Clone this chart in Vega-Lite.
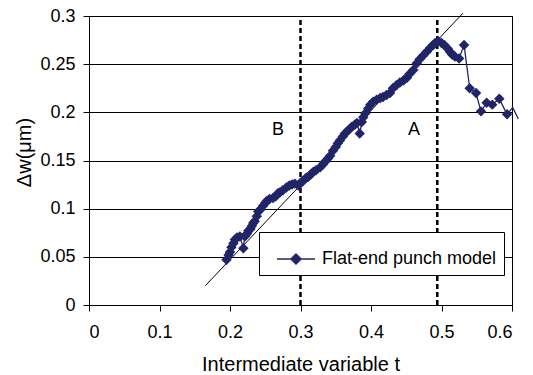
{
  "$schema": "https://vega.github.io/schema/vega-lite/v6.json",
  "width": 423,
  "height": 289,
  "autosize": "none",
  "padding": {"left": 89, "top": 16, "right": 21, "bottom": 70},
  "background": "white",
  "config": {
    "view": {"stroke": "black", "strokeWidth": 1},
    "font": "Liberation Sans",
    "axis": {
      "labelFont": "Liberation Sans",
      "titleFont": "Liberation Sans",
      "labelFontSize": 18,
      "titleFontSize": 20,
      "titleFontWeight": "normal",
      "labelColor": "black",
      "titleColor": "black",
      "domainColor": "black",
      "tickColor": "black",
      "gridColor": "black",
      "gridOpacity": 1,
      "tickSize": 6
    }
  },
  "layer": [
    {
      "data": {"values": [{"t": 0.3}, {"t": 0.494}]},
      "mark": {"type": "rule", "color": "black", "strokeWidth": 2.5, "strokeDash": [5, 3]},
      "encoding": {
        "x": {"field": "t", "type": "quantitative", "scale": {"domain": [0, 0.6], "nice": false}},
        "y": {"datum": 0, "type": "quantitative"},
        "y2": {"datum": 0.3}
      }
    },
    {
      "data": {"values": [{"t": 0.165, "v": 0.02}, {"t": 0.5305, "v": 0.303}]},
      "mark": {"type": "line", "color": "black", "strokeWidth": 1, "clip": false},
      "encoding": {
        "x": {"field": "t", "type": "quantitative"},
        "y": {"field": "v", "type": "quantitative"}
      }
    },
    {
      "data": {"name": "series"},
      "mark": {"type": "line", "strokeWidth": 1.3, "clip": false},
      "encoding": {
        "x": {
          "field": "t", "type": "quantitative",
          "scale": {"domain": [0, 0.6], "nice": false},
          "axis": {"values": [0, 0.1, 0.2, 0.3, 0.4, 0.5, 0.6], "format": ".1~f", "grid": false, "title": "Intermediate variable t", "labelPadding": 12, "titlePadding": 13}
        },
        "y": {
          "field": "v", "type": "quantitative",
          "scale": {"domain": [0, 0.3], "nice": false},
          "axis": {"values": [0, 0.05, 0.1, 0.15, 0.2, 0.25, 0.3], "format": ".2~f", "grid": true, "title": "Δw(μm)", "labelPadding": 8, "titlePadding": 5, "titleY": 136}
        },
        "order": {"field": "i", "type": "quantitative"},
        "color": {
          "field": "s", "type": "nominal",
          "scale": {"range": ["#1f2566"]},
          "legend": {
            "title": null,
            "orient": "none",
            "legendX": 170,
            "legendY": 216,
            "padding": 7,
            "strokeColor": "black",
            "fillColor": "white",
            "symbolType": "M-1,0L1,0M0,-0.27L0.27,0L0,0.27L-0.27,0Z",
            "symbolSize": 1444,
            "symbolOffset": 10,
            "symbolStrokeWidth": 1.3,
            "symbolFillColor": "#1f2566",
            "symbolStrokeColor": "#1f2566",
            "labelFont": "Liberation Sans",
            "labelFontSize": 18,
            "labelColor": "black",
            "labelOffset": 6,
            "labelLimit": 0
          }
        }
      }
    },
    {
      "data": {"name": "series"},
      "transform": [{"filter": "datum.t < 0.598"}],
      "mark": {"type": "point", "shape": "diamond", "filled": true, "size": 110, "color": "#1f2566", "opacity": 1},
      "encoding": {
        "x": {"field": "t", "type": "quantitative"},
        "y": {"field": "v", "type": "quantitative"}
      }
    },
    {
      "data": {"values": [{"t": 0.268, "v": 0.182, "label": "B"}, {"t": 0.461, "v": 0.182, "label": "A"}]},
      "mark": {"type": "text", "fontSize": 18, "font": "Liberation Sans", "color": "black"},
      "encoding": {
        "x": {"field": "t", "type": "quantitative"},
        "y": {"field": "v", "type": "quantitative"},
        "text": {"field": "label"}
      }
    }
  ],
  "datasets": {
    "series": [
      {"i": 1, "s": "Flat-end punch model", "t": 0.195, "v": 0.047},
      {"i": 2, "s": "Flat-end punch model", "t": 0.198, "v": 0.052},
      {"i": 3, "s": "Flat-end punch model", "t": 0.200, "v": 0.055},
      {"i": 4, "s": "Flat-end punch model", "t": 0.202, "v": 0.060},
      {"i": 5, "s": "Flat-end punch model", "t": 0.205, "v": 0.064},
      {"i": 6, "s": "Flat-end punch model", "t": 0.207, "v": 0.068},
      {"i": 7, "s": "Flat-end punch model", "t": 0.210, "v": 0.070},
      {"i": 8, "s": "Flat-end punch model", "t": 0.214, "v": 0.071},
      {"i": 9, "s": "Flat-end punch model", "t": 0.219, "v": 0.059},
      {"i": 10, "s": "Flat-end punch model", "t": 0.221, "v": 0.071},
      {"i": 11, "s": "Flat-end punch model", "t": 0.224, "v": 0.074},
      {"i": 12, "s": "Flat-end punch model", "t": 0.226, "v": 0.077},
      {"i": 13, "s": "Flat-end punch model", "t": 0.229, "v": 0.079},
      {"i": 14, "s": "Flat-end punch model", "t": 0.231, "v": 0.082},
      {"i": 15, "s": "Flat-end punch model", "t": 0.233, "v": 0.085},
      {"i": 16, "s": "Flat-end punch model", "t": 0.235, "v": 0.087},
      {"i": 17, "s": "Flat-end punch model", "t": 0.238, "v": 0.092},
      {"i": 18, "s": "Flat-end punch model", "t": 0.240, "v": 0.097},
      {"i": 19, "s": "Flat-end punch model", "t": 0.243, "v": 0.099},
      {"i": 20, "s": "Flat-end punch model", "t": 0.247, "v": 0.103},
      {"i": 21, "s": "Flat-end punch model", "t": 0.250, "v": 0.106},
      {"i": 22, "s": "Flat-end punch model", "t": 0.252, "v": 0.108},
      {"i": 23, "s": "Flat-end punch model", "t": 0.256, "v": 0.110},
      {"i": 24, "s": "Flat-end punch model", "t": 0.261, "v": 0.111},
      {"i": 25, "s": "Flat-end punch model", "t": 0.265, "v": 0.113},
      {"i": 26, "s": "Flat-end punch model", "t": 0.268, "v": 0.116},
      {"i": 27, "s": "Flat-end punch model", "t": 0.271, "v": 0.117},
      {"i": 28, "s": "Flat-end punch model", "t": 0.275, "v": 0.119},
      {"i": 29, "s": "Flat-end punch model", "t": 0.280, "v": 0.122},
      {"i": 30, "s": "Flat-end punch model", "t": 0.284, "v": 0.124},
      {"i": 31, "s": "Flat-end punch model", "t": 0.288, "v": 0.125},
      {"i": 32, "s": "Flat-end punch model", "t": 0.292, "v": 0.126},
      {"i": 33, "s": "Flat-end punch model", "t": 0.297, "v": 0.124},
      {"i": 34, "s": "Flat-end punch model", "t": 0.300, "v": 0.127},
      {"i": 35, "s": "Flat-end punch model", "t": 0.304, "v": 0.129},
      {"i": 36, "s": "Flat-end punch model", "t": 0.308, "v": 0.132},
      {"i": 37, "s": "Flat-end punch model", "t": 0.311, "v": 0.133},
      {"i": 38, "s": "Flat-end punch model", "t": 0.315, "v": 0.136},
      {"i": 39, "s": "Flat-end punch model", "t": 0.318, "v": 0.138},
      {"i": 40, "s": "Flat-end punch model", "t": 0.322, "v": 0.140},
      {"i": 41, "s": "Flat-end punch model", "t": 0.328, "v": 0.143},
      {"i": 42, "s": "Flat-end punch model", "t": 0.332, "v": 0.146},
      {"i": 43, "s": "Flat-end punch model", "t": 0.335, "v": 0.149},
      {"i": 44, "s": "Flat-end punch model", "t": 0.339, "v": 0.152},
      {"i": 45, "s": "Flat-end punch model", "t": 0.342, "v": 0.155},
      {"i": 46, "s": "Flat-end punch model", "t": 0.346, "v": 0.160},
      {"i": 47, "s": "Flat-end punch model", "t": 0.350, "v": 0.164},
      {"i": 48, "s": "Flat-end punch model", "t": 0.353, "v": 0.168},
      {"i": 49, "s": "Flat-end punch model", "t": 0.356, "v": 0.171},
      {"i": 50, "s": "Flat-end punch model", "t": 0.360, "v": 0.175},
      {"i": 51, "s": "Flat-end punch model", "t": 0.363, "v": 0.178},
      {"i": 52, "s": "Flat-end punch model", "t": 0.366, "v": 0.180},
      {"i": 53, "s": "Flat-end punch model", "t": 0.370, "v": 0.183},
      {"i": 54, "s": "Flat-end punch model", "t": 0.373, "v": 0.185},
      {"i": 55, "s": "Flat-end punch model", "t": 0.377, "v": 0.187},
      {"i": 56, "s": "Flat-end punch model", "t": 0.380, "v": 0.189},
      {"i": 57, "s": "Flat-end punch model", "t": 0.384, "v": 0.178},
      {"i": 58, "s": "Flat-end punch model", "t": 0.387, "v": 0.190},
      {"i": 59, "s": "Flat-end punch model", "t": 0.389, "v": 0.195},
      {"i": 60, "s": "Flat-end punch model", "t": 0.392, "v": 0.199},
      {"i": 61, "s": "Flat-end punch model", "t": 0.396, "v": 0.204},
      {"i": 62, "s": "Flat-end punch model", "t": 0.399, "v": 0.208},
      {"i": 63, "s": "Flat-end punch model", "t": 0.403, "v": 0.211},
      {"i": 64, "s": "Flat-end punch model", "t": 0.408, "v": 0.213},
      {"i": 65, "s": "Flat-end punch model", "t": 0.413, "v": 0.215},
      {"i": 66, "s": "Flat-end punch model", "t": 0.417, "v": 0.216},
      {"i": 67, "s": "Flat-end punch model", "t": 0.422, "v": 0.218},
      {"i": 68, "s": "Flat-end punch model", "t": 0.427, "v": 0.220},
      {"i": 69, "s": "Flat-end punch model", "t": 0.431, "v": 0.225},
      {"i": 70, "s": "Flat-end punch model", "t": 0.436, "v": 0.228},
      {"i": 71, "s": "Flat-end punch model", "t": 0.441, "v": 0.231},
      {"i": 72, "s": "Flat-end punch model", "t": 0.446, "v": 0.233},
      {"i": 73, "s": "Flat-end punch model", "t": 0.451, "v": 0.236},
      {"i": 74, "s": "Flat-end punch model", "t": 0.455, "v": 0.240},
      {"i": 75, "s": "Flat-end punch model", "t": 0.460, "v": 0.244},
      {"i": 76, "s": "Flat-end punch model", "t": 0.465, "v": 0.251},
      {"i": 77, "s": "Flat-end punch model", "t": 0.469, "v": 0.255},
      {"i": 78, "s": "Flat-end punch model", "t": 0.474, "v": 0.259},
      {"i": 79, "s": "Flat-end punch model", "t": 0.479, "v": 0.263},
      {"i": 80, "s": "Flat-end punch model", "t": 0.484, "v": 0.267},
      {"i": 81, "s": "Flat-end punch model", "t": 0.488, "v": 0.270},
      {"i": 82, "s": "Flat-end punch model", "t": 0.491, "v": 0.272},
      {"i": 83, "s": "Flat-end punch model", "t": 0.495, "v": 0.274},
      {"i": 84, "s": "Flat-end punch model", "t": 0.500, "v": 0.272},
      {"i": 85, "s": "Flat-end punch model", "t": 0.504, "v": 0.270},
      {"i": 86, "s": "Flat-end punch model", "t": 0.509, "v": 0.266},
      {"i": 87, "s": "Flat-end punch model", "t": 0.512, "v": 0.263},
      {"i": 88, "s": "Flat-end punch model", "t": 0.515, "v": 0.260},
      {"i": 89, "s": "Flat-end punch model", "t": 0.519, "v": 0.258},
      {"i": 90, "s": "Flat-end punch model", "t": 0.525, "v": 0.256},
      {"i": 91, "s": "Flat-end punch model", "t": 0.532, "v": 0.270},
      {"i": 92, "s": "Flat-end punch model", "t": 0.540, "v": 0.225},
      {"i": 93, "s": "Flat-end punch model", "t": 0.549, "v": 0.220},
      {"i": 94, "s": "Flat-end punch model", "t": 0.556, "v": 0.201},
      {"i": 95, "s": "Flat-end punch model", "t": 0.564, "v": 0.210},
      {"i": 96, "s": "Flat-end punch model", "t": 0.572, "v": 0.208},
      {"i": 97, "s": "Flat-end punch model", "t": 0.582, "v": 0.214},
      {"i": 98, "s": "Flat-end punch model", "t": 0.593, "v": 0.198},
      {"i": 99, "s": "Flat-end punch model", "t": 0.601, "v": 0.205},
      {"i": 100, "s": "Flat-end punch model", "t": 0.609, "v": 0.193}
    ]
  }
}
